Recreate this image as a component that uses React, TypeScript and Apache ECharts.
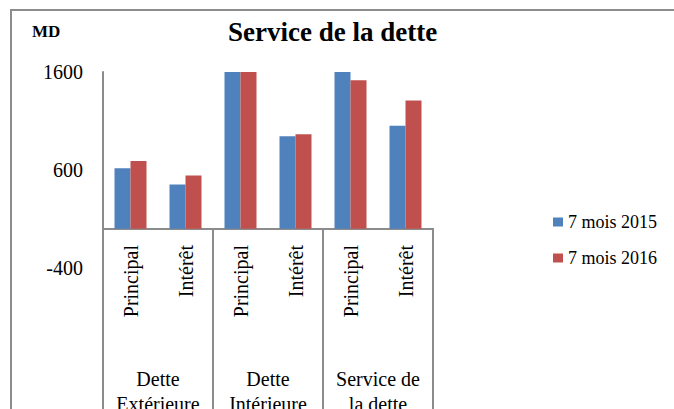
import React, { useEffect, useRef } from "react";
import * as echarts from "echarts";

const subCategories = ["Principal", "Intérêt", "Principal", "Intérêt", "Principal", "Intérêt"];
const groups = ["Dette\nExtérieure", "Dette\nIntérieure", "Service de\nla dette"];
const series2015 = [617, 452, 1600, 945, 1600, 1052];
const series2016 = [693, 545, 1600, 966, 1515, 1309];
const seriesNames = ["7 mois 2015", "7 mois 2016"];

const FONT = "'Liberation Serif', 'Times New Roman', serif";
const GRAY = "#8c8c8c";

export default function App() {
  const ref = useRef<HTMLDivElement>(null);
  useEffect(() => {
    if (!ref.current) return;
    const chart = echarts.init(ref.current, undefined, { renderer: "svg" });
    chart.setOption({
      animation: false,
      backgroundColor: "#ffffff",
      graphic: [
        {
          type: "rect",
          shape: { x: 11, y: 10, width: 700, height: 460 },
          style: { fill: "none", stroke: GRAY, lineWidth: 2 },
          silent: true,
        },
      ],
      title: [
        {
          text: "Service de la dette",
          left: 228,
          top: 18,
          padding: 0,
          textStyle: { fontFamily: FONT, fontSize: 27, fontWeight: "bold", color: "#000" },
        },
        {
          text: "MD",
          left: 32,
          top: 23,
          padding: 0,
          textStyle: { fontFamily: FONT, fontSize: 17, fontWeight: "bold", color: "#000" },
        },
      ],
      legend: {
        orient: "vertical",
        left: 548,
        top: 208,
        padding: 5,
        itemWidth: 10,
        itemHeight: 9,
        itemGap: 18,
        icon: "rect",
        textStyle: { fontFamily: FONT, fontSize: 18, color: "#000" },
        data: seriesNames,
      },
      grid: { left: 103, right: 241, top: 72, bottom: 141, containLabel: false, outerBoundsMode: "none" },
      xAxis: [
        {
          type: "category",
          data: subCategories,
          position: "bottom",
          axisLine: { show: true, onZero: true, onZeroAxisIndex: 0, lineStyle: { color: GRAY, width: 2 } },
          axisTick: { show: false },
          axisLabel: {
            interval: 0,
            rotate: 90,
            margin: -23,
            fontFamily: FONT,
            fontSize: 20,
            color: "#000",
          },
          splitLine: { show: false },
        },
        {
          type: "category",
          data: groups,
          position: "bottom",
          axisLine: { show: true, onZero: true, onZeroAxisIndex: 0, lineStyle: { color: GRAY, width: 2 } },
          axisTick: { show: true, length: 220, lineStyle: { color: GRAY, width: 2 } },
          axisLabel: {
            interval: 0,
            margin: 98,
            fontFamily: FONT,
            fontSize: 20,
            lineHeight: 25,
            color: "#000",
          },
          splitLine: { show: false },
        },
      ],
      yAxis: {
        type: "value",
        min: -400,
        max: 1600,
        interval: 1000,
        axisLine: { show: true, lineStyle: { color: GRAY, width: 2 } },
        axisTick: { show: false },
        splitLine: { show: false },
        axisLabel: {
          margin: 20,
          fontFamily: FONT,
          fontSize: 20,
          color: "#000",
          formatter: (v: number) => String(v),
        },
      },
      series: [
        {
          name: seriesNames[0],
          type: "bar",
          xAxisIndex: 0,
          data: series2015,
          barWidth: 16,
          barGap: "0%",
          itemStyle: { color: "#4F81BD" },
        },
        {
          name: seriesNames[1],
          type: "bar",
          xAxisIndex: 0,
          data: series2016,
          barWidth: 16,
          barGap: "0%",
          itemStyle: { color: "#C0504D" },
        },
      ],
    });
    return () => chart.dispose();
  }, []);
  return (
    <div
      ref={ref}
      style={{ position: "fixed", left: 0, top: 0, width: 674, height: 409, background: "#fff" }}
    />
  );
}
